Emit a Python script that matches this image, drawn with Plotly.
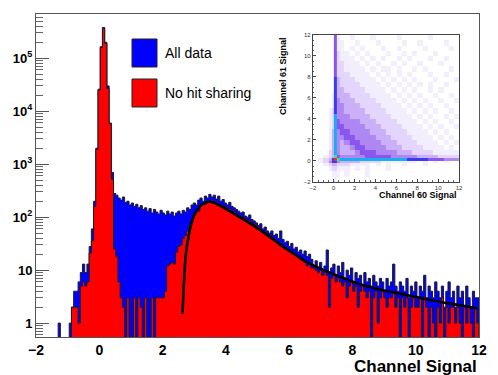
import plotly.graph_objects as go

# ---------------------------------------------------------------------------
# Main histogram: 200 bins of width 0.07 between -2 and 12
# ---------------------------------------------------------------------------
BIN_LO = -2.0
BIN_W = 0.07

all_data = [
    0, 0, 0, 0, 0, 0, 0, 0, 0, 0,
    1, 0, 0, 0, 0, 1, 2, 4, 4, 6,
    9, 13, 9, 13, 28, 60, 200, 2000, 26000, 165000,
    380000, 200000, 30000, 6000, 700, 280, 260, 230, 210, 240,
    190, 200, 170, 185, 160, 175, 150, 165, 140, 150,
    130, 145, 120, 140, 125, 115, 135, 120, 110, 130,
    115, 125, 105, 120, 130, 115, 135, 125, 150, 140,
    170, 185, 170, 210, 230, 200, 250, 230, 270, 240,
    260, 220, 250, 200, 215, 185, 170, 190, 160, 150,
    140, 130, 120, 125, 105, 100, 110, 90, 85, 78,
    70, 75, 60, 65, 55, 50, 55, 45, 48, 40,
    55, 38, 33, 35, 28, 32, 25, 27, 22, 24,
    20, 23, 18, 20, 16, 12, 15, 11, 14, 10,
    12, 24, 9, 11, 13, 8, 12, 9, 14, 7,
    10, 8, 11, 6, 9, 7, 8, 5, 9, 6,
    7, 5, 8, 6, 5, 7, 6, 4, 7, 5,
    6, 13, 5, 4, 6, 5, 4, 7, 3, 5,
    4, 6, 3, 5, 4, 8, 3, 5, 4, 3,
    6, 4, 3, 5, 2, 4, 6, 3, 4, 2,
    5, 3, 4, 2, 5, 3, 2, 4, 3, 3,
]

no_hit_sharing = [
    0, 0, 0, 0, 0, 0, 0, 0, 0, 0,
    0, 0, 0, 0, 0, 0, 2, 2, 2, 1,
    5, 6, 5, 6, 21, 36, 160, 1900, 25000, 160000,
    370000, 190000, 27000, 5800, 520, 25, 18, 6, 3, 2,
    0, 3, 0, 0, 3, 0, 3, 2, 0, 3,
    0, 0, 3, 0, 3, 3, 3, 3, 4, 12,
    13, 14, 13, 22, 28, 30, 40, 45, 55, 70,
    85, 110, 125, 130, 165, 180, 175, 205, 190, 210,
    185, 195, 170, 175, 150, 160, 140, 145, 125, 130,
    115, 110, 105, 100, 95, 88, 86, 78, 74, 70,
    65, 61, 55, 53, 48, 46, 42, 40, 36, 34,
    31, 29, 27, 25, 23, 22, 20, 19, 17, 16,
    15, 14, 12, 13, 11, 11, 10, 9, 10, 8,
    9, 8, 2, 7, 8, 6, 7, 6, 5, 6,
    3, 5, 6, 4, 5, 2, 4, 5, 4, 3,
    4, 0, 3, 4, 1, 3, 4, 3, 2, 3,
    3, 4, 2, 3, 0, 3, 2, 3, 0, 2,
    3, 2, 2, 3, 0, 3, 2, 0, 2, 1,
    0, 2, 1, 3, 0, 2, 1, 2, 2, 1,
    2, 1, 0, 2, 1, 2, 1, 0, 2, 1,
]

# fitted curve
fit_x = [2.63, 2.67, 2.71, 2.76, 2.82, 2.92, 3.08, 3.29, 3.5, 3.7, 4.02, 4.34,
         4.86, 5.4, 5.72, 6.2, 6.55, 7.1, 7.6, 8.1, 8.66, 9.2, 9.7, 10.25,
         10.78, 11.35, 11.93]
fit_y = [1.5, 5, 13, 26, 42, 80, 135, 181, 195, 178, 141, 108,
         70, 42, 30, 19.5, 14.3, 10, 7.5, 5.8, 4.6, 3.9, 3.4, 2.9,
         2.5, 2.2, 1.9]

y_tickvals = [1, 10, 100, 1000, 10000, 100000]
y_ticktext = ["1", "10", "10<sup>2</sup>", "10<sup>3</sup>", "10<sup>4</sup>", "10<sup>5</sup>"]
x_tickvals = [-2, 0, 2, 4, 6, 8, 10, 12]

# ---------------------------------------------------------------------------
# Inset: channel 60 vs channel 61, density level per cell (0 = empty, 9 = max)
# ---------------------------------------------------------------------------
inset_edges = [-2, -1.5, -1, -0.5, -0.2, 0, 0.3, 0.6, 1, 1.5, 2, 2.5, 3, 3.5, 4,
               4.5, 5, 5.5, 6, 6.5, 7, 7.5, 8, 8.5, 9, 9.5, 10, 10.5, 11, 11.5, 12]
inset_rows = [  # top row (y 11.5..12) first
    "000005100100010000100000100000",
    "000005110010001000010010000100",
    "000005110101000100100001000010",
    "000005211010100010010100010000",
    "000005211101010100101000100100",
    "000005221110101001010010001000",
    "000005221111010110100101000010",
    "000005222111101010101000100100",
    "000006322211110101010100010001",
    "000006322221111010101010100100",
    "000006332222111101010100101000",
    "000016333222211110101010010010",
    "000016433322221111010101001001",
    "000016443332222111101010100100",
    "000126443333222211110101010010",
    "000127444333322221111010100101",
    "000127544443332222111101010010",
    "000127554444333222211110101001",
    "000137455444433322221111010100",
    "000137445544443332222111101010",
    "000137434554444333222211110101",
    "000137433455444433322221111010",
    "000237433345554444333222211111",
    "001238544444555554444433332222",
    "012369877777777777776666555444",
    "012466433332222111111101010100",
    "001233222111101010010001000000",
    "000122111010100010000000000000",
    "000011101000100000000000000000",
    "000001000000000000000000000000",
]
inset_ticks = [-2, 0, 2, 4, 6, 8, 10, 12]

LEVEL_COLORS = ["rgba(255,255,255,0)", "#f3eefd", "#e3d5fb", "#cbb0f8", "#ae87f3",
                "#8a56ee", "#3a3cf2", "#1aaef0", "#48dc98", "#ff2a10"]

FONT = "Liberation Sans, Arial, Helvetica, sans-serif"
FLOOR = 0.1  # empty bins drop below the visible range


def step_outline(values):
    """Closed histogram outline (ROOT style) for a filled step polygon."""
    n = len(values)
    xs, ys = [BIN_LO], [FLOOR]
    for i, v in enumerate(values):
        lo = BIN_LO + i * BIN_W
        h = v if v > 0 else FLOOR
        xs += [lo, lo + BIN_W]
        ys += [h, h]
    xs.append(BIN_LO + n * BIN_W)
    ys.append(FLOOR)
    return xs, ys


def to_paper(px, py):
    # plot area: x 36..479, y 14..337 (pixels)
    return (px - 36) / 443, (337 - py) / 323


fig = go.Figure()

for vals, color in [(all_data, "#0000ff"), (no_hit_sharing, "#ff0000")]:
    xs, ys = step_outline(vals)
    fig.add_trace(go.Scatter(
        x=xs, y=ys, mode="lines", fill="toself", fillcolor=color,
        line=dict(color="#1c1c2a", width=1), hoverinfo="skip", showlegend=False,
    ))

fig.add_trace(go.Scatter(
    x=fit_x, y=fit_y, mode="lines", line=dict(color="black", width=2.6, shape="spline"),
    hoverinfo="skip", showlegend=False,
))

z = [[int(ch) for ch in row.ljust(30, "0")[:30]] for row in reversed(inset_rows)]
n_lv = len(LEVEL_COLORS) - 1
fig.add_trace(go.Heatmap(
    x=inset_edges, y=inset_edges, z=z, zmin=0, zmax=n_lv,
    colorscale=[[k / n_lv, c] for k, c in enumerate(LEVEL_COLORS)],
    showscale=False, xaxis="x2", yaxis="y2", hoverinfo="skip",
))

minor_y = [m * 10 ** d for d in range(-1, 6) for m in range(2, 10)]

fig.update_layout(
    width=498, height=375,
    margin=dict(l=36, r=19, t=14, b=38),
    paper_bgcolor="white", plot_bgcolor="white",
    font=dict(family=FONT, color="black"),
    xaxis=dict(
        range=[-2, 12], domain=[0, 1], showgrid=False, zeroline=False,
        tickvals=x_tickvals, ticks="", showline=True, mirror=True,
        linecolor="#555", linewidth=1,
        tickfont=dict(family=FONT, size=14, weight="bold"),
    ),
    yaxis=dict(
        type="log", range=[-0.262, 5.835], domain=[0, 1], showgrid=False, zeroline=False,
        tickvals=y_tickvals, ticktext=y_ticktext, ticks="inside", ticklen=13,
        tickcolor="#555", showline=True, mirror=True, linecolor="#555", linewidth=1,
        tickfont=dict(family=FONT, size=13, weight="bold"),
        minor=dict(tickvals=minor_y, ticks="inside", ticklen=7, tickcolor="#666"),
    ),
    xaxis2=dict(
        range=[-2, 12], domain=[0.625, 0.955], anchor="y2", showgrid=False,
        zeroline=False, tickvals=inset_ticks, ticks="inside", ticklen=3,
        tickcolor="#444", showline=True, mirror=True, linecolor="#444", linewidth=1,
        tickfont=dict(family=FONT, size=6, color="#333"),
        minor=dict(dtick=0.5, ticks="inside", ticklen=1.5, tickcolor="#666"),
    ),
    yaxis2=dict(
        range=[-2, 12], domain=[0.48, 0.935], anchor="x2", showgrid=False,
        zeroline=False, tickvals=inset_ticks, ticks="inside", ticklen=3,
        tickcolor="#444", showline=True, mirror=True, linecolor="#444", linewidth=1,
        tickfont=dict(family=FONT, size=6, color="#333"),
        minor=dict(dtick=0.5, ticks="inside", ticklen=1.5, tickcolor="#666"),
    ),
)

# legend boxes
for (py0, py1), color, label in [((39, 67), "#0000ff", "All data"),
                                 ((79, 107), "#ff0000", "No hit sharing")]:
    x0, y0 = to_paper(132, py1)
    x1, y1 = to_paper(157, py0)
    fig.add_shape(type="rect", xref="paper", yref="paper", x0=x0, x1=x1, y0=y0, y1=y1,
                  fillcolor=color, line=dict(color="#222", width=1))
    tx, ty = to_paper(163, (py0 + py1) / 2)
    fig.add_annotation(text=label, xref="paper", yref="paper", x=tx, y=ty,
                       xanchor="left", yanchor="middle", showarrow=False,
                       font=dict(family=FONT, size=14, color="black"))

# axis titles
ax, ay = to_paper(479, 366)
fig.add_annotation(text="Channel Signal", xref="paper", yref="paper", x=ax, y=ay,
                   xanchor="right", yanchor="middle", showarrow=False,
                   font=dict(family=FONT, size=17, weight="bold"))
ax, ay = to_paper(459, 195)
fig.add_annotation(text="Channel 60 Signal", xref="paper", yref="paper", x=ax, y=ay,
                   xanchor="right", yanchor="middle", showarrow=False,
                   font=dict(family=FONT, size=9, weight="bold"))
ax, ay = to_paper(283, 35)
fig.add_annotation(text="Channel 61 Signal", xref="paper", yref="paper", x=ax, y=ay,
                   xanchor="center", yanchor="top", textangle=-90, showarrow=False,
                   font=dict(family=FONT, size=9, weight="bold"))

# the page body has a default 8px margin; drop it so the figure sits at 0,0
fig.write_html("out.html", config={"displayModeBar": False},
               post_script="document.body.style.margin='0px';")
